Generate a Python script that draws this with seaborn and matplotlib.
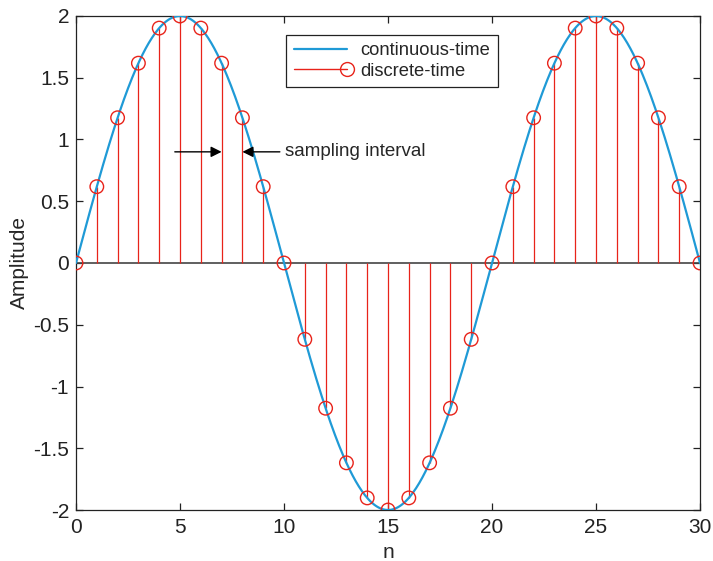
import numpy as np
import pandas as pd
import matplotlib
matplotlib.use("Agg")
import matplotlib.pyplot as plt
import seaborn as sns
from matplotlib.lines import Line2D
from matplotlib.legend_handler import HandlerBase

# Sample indices and sampled amplitudes of the discrete-time signal
n_samples = list(range(0, 31))
x_samples = [0.0, 0.618, 1.176, 1.618, 1.902, 2.0, 1.902, 1.618, 1.176, 0.618,
             0.0, -0.618, -1.176, -1.618, -1.902, -2.0, -1.902, -1.618, -1.176, -0.618,
             0.0, 0.618, 1.176, 1.618, 1.902, 2.0, 1.902, 1.618, 1.176, 0.618, 0.0]

# Continuous-time sinusoid parameters
amplitude = 2.0
period = 20.0

x_ticks = [0, 5, 10, 15, 20, 25, 30]
y_ticks = [-2, -1.5, -1, -0.5, 0, 0.5, 1, 1.5, 2]
y_ticklabels = ["-2", "-1.5", "-1", "-0.5", "0", "0.5", "1", "1.5", "2"]

sns.set_style("white")
plt.rcParams["font.family"] = ["Liberation Sans", "DejaVu Sans"]

BLUE = "#1f9ad6"
RED = "#e8231a"

fig = plt.figure(figsize=(7.13, 5.61), dpi=100)
ax = fig.add_axes([0.1066, 0.0909, 0.8752, 0.8806])

t = np.linspace(0, 30, 601)
cont = pd.DataFrame({"t": t, "x": amplitude * np.sin(2 * np.pi * t / period)})
sns.lineplot(data=cont, x="t", y="x", ax=ax, color=BLUE, lw=1.6, zorder=3)

# stems, baseline and open-circle markers
ax.vlines(n_samples, 0, x_samples, color=RED, lw=0.9, zorder=2)
ax.axhline(0, color="#444444", lw=1.2, zorder=1)
disc = pd.DataFrame({"n": n_samples, "x": x_samples})
sns.scatterplot(data=disc, x="n", y="x", ax=ax, marker="o", s=95,
                facecolors="none", edgecolor=RED, linewidth=1.0, zorder=4)

ax.set_xlim(0, 30)
ax.set_ylim(-2, 2)
ax.set_xticks(x_ticks)
ax.set_yticks(y_ticks)
ax.set_yticklabels(y_ticklabels)
ax.tick_params(direction="in", length=5, width=0.9, labelsize=15, colors="#222222",
               bottom=True, left=True, top=True, right=True)
ax.tick_params(axis="x", pad=6)
ax.tick_params(axis="y", pad=5)
ax.set_xlabel("n", fontsize=15, labelpad=4)
ax.set_ylabel("Amplitude", fontsize=15, labelpad=3)
for s in ax.spines.values():
    s.set_color("#222222")
    s.set_linewidth(0.9)

# sampling interval annotation
ax.annotate("", xy=(7.0, 0.9), xytext=(4.75, 0.9),
            arrowprops=dict(arrowstyle="-|>", color="black", lw=1.0,
                            mutation_scale=16, shrinkA=0, shrinkB=0))
ax.annotate("", xy=(8.0, 0.9), xytext=(9.8, 0.9),
            arrowprops=dict(arrowstyle="-|>", color="black", lw=1.0,
                            mutation_scale=16, shrinkA=0, shrinkB=0))
ax.text(10.05, 0.9, "sampling interval", fontsize=13.5, va="center", ha="left")


class StemHandler(HandlerBase):
    def create_artists(self, legend, orig_handle, xdescent, ydescent, width,
                       height, fontsize, trans):
        y = height / 2 - ydescent
        line = Line2D([-xdescent, width - xdescent], [y, y], color=RED, lw=1.0)
        mk = Line2D([width - xdescent], [y], marker="o", ms=10, mfc="none",
                    mec=RED, mew=1.0, ls="none")
        line.set_transform(trans)
        mk.set_transform(trans)
        return [line, mk]


h_cont = Line2D([], [], color=BLUE, lw=1.6)
h_disc = Line2D([], [], color=RED)
leg = ax.legend([h_cont, h_disc], ["continuous-time", "discrete-time"],
                handler_map={h_disc: StemHandler()},
                loc="upper left", bbox_to_anchor=(0.337, 0.962),
                fontsize=13.2, frameon=True, fancybox=False, framealpha=1,
                edgecolor="#222222", handlelength=2.9, handletextpad=0.75,
                borderpad=0.4, labelspacing=0.2, borderaxespad=0)
leg.get_frame().set_linewidth(0.9)

fig.savefig("out.png", dpi=100)
